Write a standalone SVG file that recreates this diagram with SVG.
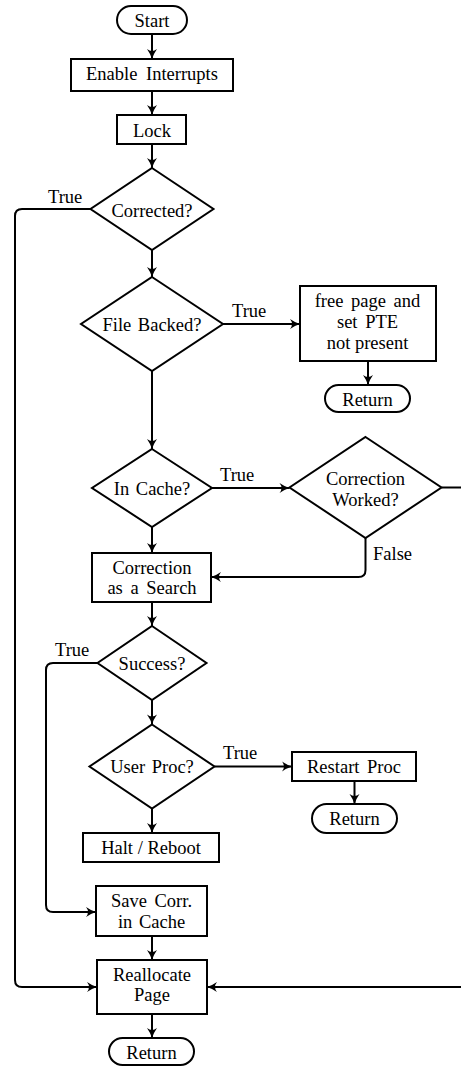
<svg xmlns="http://www.w3.org/2000/svg" width="461" height="1066" viewBox="0 0 461 1066">
<style>
.n{fill:#fff;stroke:#000;stroke-width:2}
.t{font-family:"Liberation Serif","Times New Roman",serif;font-size:18.5px;fill:#000;text-anchor:middle}
.l{font-family:"Liberation Serif","Times New Roman",serif;font-size:18.5px;fill:#000}
.c{fill:none;stroke:#000;stroke-width:2}
.a{marker-end:url(#ah)}
</style>
<defs>
<marker id="ah" markerUnits="userSpaceOnUse" markerWidth="14" markerHeight="12" viewBox="-11 -6 12 12" refX="0" refY="0" orient="auto">
<path d="M0,0 Q-5,-1.5 -10,-5 Q-6,0 -10,5 Q-5,1.5 0,0 Z" fill="#000"/>
</marker>
</defs>
<rect width="461" height="1066" fill="#fff"/>
<g id="connectors">
<path class="c a" d="M152,34 L152,59"/>
<path class="c a" d="M152,91 L152,115"/>
<path class="c a" d="M152,144 L152,168"/>
<path class="c a" d="M152,250 L152,277"/>
<path class="c a" d="M90.5,209 L22,209 Q15,209 15,216 L15,980 Q15,987 22,987 L97,987"/>
<path class="c a" d="M223,324 L300,324"/>
<path class="c a" d="M368,361 L368,385"/>
<path class="c a" d="M152,371 L152,449"/>
<path class="c a" d="M212,488 L289.5,488"/>
<path class="c a" d="M152,527 L152,553"/>
<path class="c a" d="M365.5,538 L365.5,570 Q365.5,577 358.5,577 L211,577"/>
<path class="c a" d="M441.5,487.5 L460,487.5 Q468,487.5 468,495.5 L468,979 Q468,987 460,987 L207,987"/>
<path class="c a" d="M152,602 L152,626"/>
<path class="c a" d="M97.5,663 L53,663 Q46,663 46,670 L46,905 Q46,912 53,912 L96,912"/>
<path class="c a" d="M152,700 L152,724.5"/>
<path class="c a" d="M214.5,766.5 L292,766.5"/>
<path class="c a" d="M354.5,781 L354.5,804"/>
<path class="c a" d="M152,808.5 L152,833"/>
<path class="c a" d="M152,936 L152,960"/>
<path class="c a" d="M152,1014 L152,1038"/>
<text class="l" x="48" y="202.5">True</text>
<text class="l" x="232" y="316.5">True</text>
<text class="l" x="220" y="481">True</text>
<text class="l" x="373" y="560">False</text>
<text class="l" x="55" y="656">True</text>
<text class="l" x="223" y="759">True</text>
</g>
<g id="start"><rect class="n" x="117" y="6" width="70" height="28" rx="14"/><text class="t" x="152" y="26.5">Start</text></g>
<g id="enable"><rect class="n" x="71" y="59" width="162" height="32"/><text class="t" x="152" y="79.5" word-spacing="4">Enable Interrupts</text></g>
<g id="lock"><rect class="n" x="117" y="115" width="69" height="29"/><text class="t" x="152" y="136.5">Lock</text></g>
<g id="corrected"><polygon class="n" points="152,168 213.5,209 152,250 90.5,209"/><text class="t" x="152" y="216.5">Corrected?</text></g>
<g id="filebacked"><polygon class="n" points="152,277 223,324 152,371 81,324"/><text class="t" x="152" y="330.5" word-spacing="2">File Backed?</text></g>
<g id="freepage"><rect class="n" x="300" y="286" width="136" height="75"/><text class="t" x="367.5" y="306.5" word-spacing="3">free page and</text><text class="t" x="367.5" y="328" word-spacing="3">set PTE</text><text class="t" x="367.5" y="349">not present</text></g>
<g id="return1"><rect class="n" x="325" y="385" width="85" height="27" rx="13.5"/><text class="t" x="367.5" y="405.5">Return</text></g>
<g id="incache"><polygon class="n" points="152,449 212,488 152,527 92,488"/><text class="t" x="152" y="495" word-spacing="2">In Cache?</text></g>
<g id="corrworked"><polygon class="n" points="365.5,437 441.5,487.5 365.5,538 289.5,487.5"/><text class="t" x="365.5" y="485">Correction</text><text class="t" x="365.5" y="505.5">Worked?</text></g>
<g id="corrsearch"><rect class="n" x="92" y="553" width="119" height="49"/><text class="t" x="152" y="574">Correction</text><text class="t" x="152" y="594" word-spacing="3">as a Search</text></g>
<g id="success"><polygon class="n" points="152,626 206.5,663 152,700 97.5,663"/><text class="t" x="152" y="670">Success?</text></g>
<g id="userproc"><polygon class="n" points="152,724.5 214.5,766.5 152,808.5 89.5,766.5"/><text class="t" x="152" y="773" word-spacing="2">User Proc?</text></g>
<g id="restart"><rect class="n" x="292" y="752" width="124" height="29"/><text class="t" x="354" y="773" word-spacing="3">Restart Proc</text></g>
<g id="return2"><rect class="n" x="312" y="804" width="85" height="29" rx="14.5"/><text class="t" x="354.5" y="825">Return</text></g>
<g id="halt"><rect class="n" x="83" y="833" width="136" height="29"/><text class="t" x="151" y="854">Halt / Reboot</text></g>
<g id="savecorr"><rect class="n" x="96" y="886" width="111" height="50"/><text class="t" x="151.5" y="907" word-spacing="3">Save Corr.</text><text class="t" x="151.5" y="928" word-spacing="2">in Cache</text></g>
<g id="reallocate"><rect class="n" x="97" y="960" width="110" height="54"/><text class="t" x="152" y="980.5">Reallocate</text><text class="t" x="152" y="1001">Page</text></g>
<g id="return3"><rect class="n" x="109" y="1038" width="85" height="27" rx="13.5"/><text class="t" x="151.5" y="1058.5">Return</text></g>
</svg>
